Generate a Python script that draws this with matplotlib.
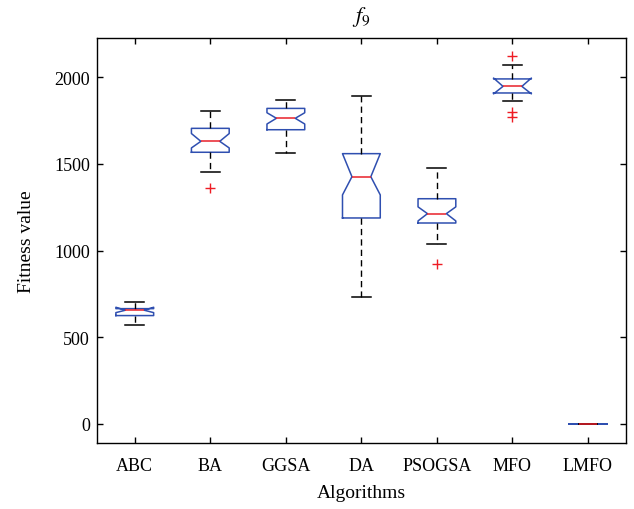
import matplotlib
matplotlib.use("Agg")
import matplotlib.pyplot as plt

plt.rcParams['font.family'] = ['Liberation Serif', 'DejaVu Serif']
plt.rcParams['mathtext.fontset'] = 'stix'

algorithms = ["ABC", "BA", "GGSA", "DA", "PSOGSA", "MFO", "LMFO"]
q1 = [625, 1567, 1697, 1188, 1159, 1909, 0]
med = [656, 1630, 1763, 1426, 1213, 1947, 0]
q3 = [665, 1705, 1820, 1559, 1299, 1990, 0]
whislo = [573, 1453, 1563, 731, 1038, 1865, 0]
whishi = [705, 1807, 1868, 1891, 1475, 2070, 0]
cilo = [642, 1592, 1730, 1321, 1171, 1904, 0]
cihi = [673, 1675, 1795, 1559, 1252, 1995, 0]
fliers = [[], [1361], [], [], [921], [2120, 1800, 1772], []]
yticks = [0, 500, 1000, 1500, 2000]

stats = []
for i, name in enumerate(algorithms):
    stats.append(dict(label=name, q1=q1[i], med=med[i], q3=q3[i],
                      whislo=whislo[i], whishi=whishi[i],
                      cilo=cilo[i], cihi=cihi[i], fliers=fliers[i]))

fig = plt.figure(figsize=(6.34, 5.10), dpi=100)
ax = fig.add_axes([0.153, 0.1294, 0.834, 0.7941])

blue = '#2f4fb0'
ax.bxp(stats, positions=range(1, 8), widths=0.5, shownotches=True,
       patch_artist=False,
       boxprops=dict(color=blue, linewidth=1.1),
       medianprops=dict(color='#e8202a', linewidth=1.1),
       whiskerprops=dict(color='black', linewidth=1.0, linestyle=(0, (4.5, 3))),
       capprops=dict(color='black', linewidth=1.1),
       flierprops=dict(marker='+', markeredgecolor='#ee1c24', markersize=7,
                       linestyle='none', markeredgewidth=1.0))

ax.set_xlim(0.5, 7.5)
ax.set_ylim(-110, 2226)
ax.set_yticks(yticks)
ax.set_xticks(range(1, 8))
ax.set_xticklabels(algorithms)
ax.tick_params(direction='in', top=True, right=True, length=4, labelsize=13,
               width=1)
ax.tick_params(axis='x', pad=10)
ax.tick_params(axis='y', pad=5)
for s in ax.spines.values():
    s.set_linewidth(1.0)
ax.set_xlabel("Algorithms", fontsize=14, labelpad=7)
ax.set_ylabel("Fitness value", fontsize=14, labelpad=14)
ax.set_title(r"$f_9$", fontsize=16, pad=12)

fig.savefig("out.png", dpi=100)
